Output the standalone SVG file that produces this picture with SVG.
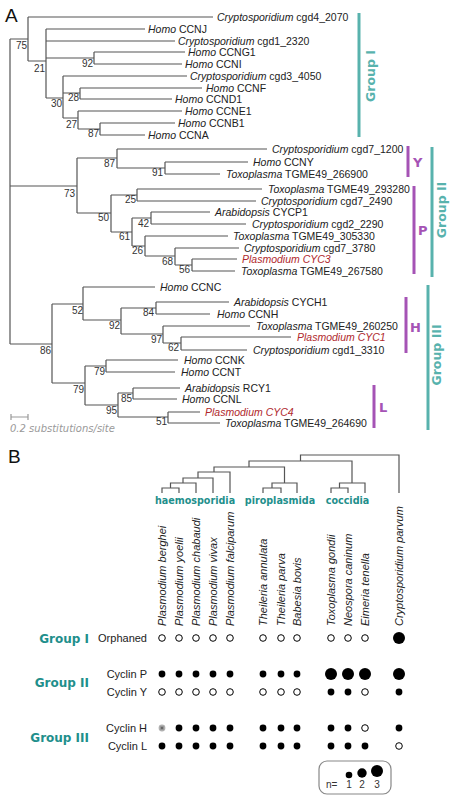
<svg xmlns="http://www.w3.org/2000/svg" width="453" height="800" viewBox="0 0 453 800">
<style>
.e{fill:none;stroke:#555;stroke-width:1.2}
.lf{font-family:"Liberation Sans",Arial,sans-serif;font-size:10.5px;fill:#222}
.it{font-style:italic}
.red{fill:#b0282c;font-style:italic}
.bs{font-family:"Liberation Sans",Arial,sans-serif;font-size:10px;fill:#333;text-anchor:end}
.tealbar{stroke:#58b2ad;stroke-width:3}
.purbar{stroke:#a553b5;stroke-width:3}
.gA{font-family:"DejaVu Sans",Verdana,sans-serif;font-weight:bold;font-size:12.5px;fill:#58b2ad;text-anchor:middle}
.pl{font-family:"DejaVu Sans",Verdana,sans-serif;font-weight:bold;font-size:13px;fill:#a553b5}
.panel{font-family:"Liberation Sans",Arial,sans-serif;font-size:19px;fill:#111}
.cl{font-family:"DejaVu Sans",Verdana,sans-serif;font-weight:bold;font-size:9.6px;fill:#1f8f8c;text-anchor:middle}
.sp{font-family:"Liberation Sans",Arial,sans-serif;font-size:11px;font-style:italic;fill:#222}
.row{font-family:"Liberation Sans",Arial,sans-serif;font-size:11px;fill:#222;text-anchor:end}
.gB{font-family:"DejaVu Sans",Verdana,sans-serif;font-weight:bold;font-size:12px;fill:#1f8f8c;text-anchor:end}
.f{fill:#000}
.o{fill:#fff;stroke:#000;stroke-width:1}
</style>

<text class="panel" x="5" y="22">A</text>
<text class="panel" x="8" y="463">B</text>

<g id="tree-edges">
<path class="e" d="M10,39V344 M10,39H28 M10,186H77 M10,344H52"/>
<!-- Group I -->
<path class="e" d="M28,17V61 M28,17H213 M28,61H46
M46,29V98 M46,29H145 M46,41H175 M46,58H94 M46,98H63
M94,52V64 M94,52H185 M94,64H182
M63,76V118 M63,76H187 M63,93H80 M63,118H78
M80,88V99 M80,88H202 M80,99H172
M78,111V129 M78,111H182 M78,129H100
M100,123V135 M100,123H175 M100,135H145"/>
<!-- Group II -->
<path class="e" d="M77,158V213 M77,158H117 M77,213H111
M117,149V168 M117,149H267 M117,168H165
M165,162V174 M165,162H248 M165,174H220
M111,195V232 M111,195H137 M111,232H132
M137,189V201 M137,189H262 M137,201H256
M132,218V246 M132,218H151 M132,246H145
M151,212V224 M151,212H210 M151,224H246
M145,236V256 M145,236H228 M145,256H175
M175,248V265 M175,248H239 M175,265H192
M192,259V271 M192,259H237 M192,271H235"/>
<!-- Group III -->
<path class="e" d="M52,304V383 M52,304H83 M52,383H85
M83,287V320 M83,287H155 M83,320H121
M121,308V334 M121,308H156 M121,334H163
M156,302V314 M156,302H229 M156,314H210
M163,326V343 M163,326H250 M163,343H181
M181,337V350 M181,337H291 M181,350H247
M85,366V405 M85,366H106 M85,405H118
M106,360V372 M106,360H178 M106,372H175
M118,393V417 M118,393H133 M118,417H168
M133,388V399 M133,388H180 M133,399H177
M168,412V423 M168,412H200 M168,423H220"/>
</g>

<g id="bootstrap">
<text class="bs" x="27" y="49">75</text>
<text class="bs" x="45" y="72">21</text>
<text class="bs" x="93" y="67">92</text>
<text class="bs" x="62" y="107">30</text>
<text class="bs" x="79" y="101">28</text>
<text class="bs" x="77" y="128">27</text>
<text class="bs" x="99" y="137">87</text>
<text class="bs" x="115" y="167">87</text>
<text class="bs" x="163" y="176">91</text>
<text class="bs" x="75" y="197">73</text>
<text class="bs" x="109" y="221">50</text>
<text class="bs" x="136" y="203">25</text>
<text class="bs" x="130" y="240">61</text>
<text class="bs" x="149" y="227">42</text>
<text class="bs" x="143" y="254">26</text>
<text class="bs" x="173" y="265">68</text>
<text class="bs" x="190" y="273">56</text>
<text class="bs" x="51" y="354">86</text>
<text class="bs" x="83" y="314">52</text>
<text class="bs" x="120" y="329">92</text>
<text class="bs" x="154" y="316">84</text>
<text class="bs" x="162" y="343">97</text>
<text class="bs" x="179" y="351">62</text>
<text class="bs" x="84" y="393">79</text>
<text class="bs" x="105" y="375">79</text>
<text class="bs" x="117" y="414">95</text>
<text class="bs" x="132" y="402">85</text>
<text class="bs" x="167" y="425">51</text>
</g>

<g id="leaves">
<g id="cgd4_2070"><text class="lf" x="217" y="21"><tspan class="it">Cryptosporidium</tspan> cgd4_2070</text></g>
<g id="CCNJ"><text class="lf" x="148" y="33"><tspan class="it">Homo</tspan> CCNJ</text></g>
<g id="cgd1_2320"><text class="lf" x="178" y="45"><tspan class="it">Cryptosporidium</tspan> cgd1_2320</text></g>
<g id="CCNG1"><text class="lf" x="188" y="56"><tspan class="it">Homo</tspan> CCNG1</text></g>
<g id="CCNI"><text class="lf" x="185" y="68"><tspan class="it">Homo</tspan> CCNI</text></g>
<g id="cgd3_4050"><text class="lf" x="190" y="80"><tspan class="it">Cryptosporidium</tspan> cgd3_4050</text></g>
<g id="CCNF"><text class="lf" x="206" y="92"><tspan class="it">Homo</tspan> CCNF</text></g>
<g id="CCND1"><text class="lf" x="175" y="103"><tspan class="it">Homo</tspan> CCND1</text></g>
<g id="CCNE1"><text class="lf" x="185" y="115"><tspan class="it">Homo</tspan> CCNE1</text></g>
<g id="CCNB1"><text class="lf" x="178" y="127"><tspan class="it">Homo</tspan> CCNB1</text></g>
<g id="CCNA"><text class="lf" x="148" y="139"><tspan class="it">Homo</tspan> CCNA</text></g>

<g id="cgd7_1200"><text class="lf" x="272" y="153"><tspan class="it">Cryptosporidium</tspan> cgd7_1200</text></g>
<g id="CCNY"><text class="lf" x="253" y="166"><tspan class="it">Homo</tspan> CCNY</text></g>
<g id="TGME49_266900"><text class="lf" x="226" y="178"><tspan class="it">Toxoplasma</tspan> TGME49_266900</text></g>
<g id="TGME49_293280"><text class="lf" x="268" y="193"><tspan class="it">Toxoplasma</tspan> TGME49_293280</text></g>
<g id="cgd7_2490"><text class="lf" x="261" y="205"><tspan class="it">Cryptosporidium</tspan> cgd7_2490</text></g>
<g id="CYCP1"><text class="lf" x="215" y="216"><tspan class="it">Arabidopsis</tspan> CYCP1</text></g>
<g id="cgd2_2290"><text class="lf" x="252" y="228"><tspan class="it">Cryptosporidium</tspan> cgd2_2290</text></g>
<g id="TGME49_305330"><text class="lf" x="233" y="240"><tspan class="it">Toxoplasma</tspan> TGME49_305330</text></g>
<g id="cgd7_3780"><text class="lf" x="244" y="252"><tspan class="it">Cryptosporidium</tspan> cgd7_3780</text></g>
<g id="CYC3"><text class="lf red" x="242" y="263">Plasmodium CYC3</text></g>
<g id="TGME49_267580"><text class="lf" x="241" y="275"><tspan class="it">Toxoplasma</tspan> TGME49_267580</text></g>

<g id="CCNC"><text class="lf" x="160" y="291"><tspan class="it">Homo</tspan> CCNC</text></g>
<g id="CYCH1"><text class="lf" x="234" y="306"><tspan class="it">Arabidopsis</tspan> CYCH1</text></g>
<g id="CCNH"><text class="lf" x="217" y="318"><tspan class="it">Homo</tspan> CCNH</text></g>
<g id="TGME49_260250"><text class="lf" x="256" y="330"><tspan class="it">Toxoplasma</tspan> TGME49_260250</text></g>
<g id="CYC1"><text class="lf red" x="297" y="341">Plasmodium CYC1</text></g>
<g id="cgd1_3310"><text class="lf" x="253" y="354"><tspan class="it">Cryptosporidium</tspan> cgd1_3310</text></g>
<g id="CCNK"><text class="lf" x="184" y="364"><tspan class="it">Homo</tspan> CCNK</text></g>
<g id="CCNT"><text class="lf" x="181" y="376"><tspan class="it">Homo</tspan> CCNT</text></g>
<g id="RCY1"><text class="lf" x="185" y="392"><tspan class="it">Arabidopsis</tspan> RCY1</text></g>
<g id="CCNL"><text class="lf" x="182" y="403"><tspan class="it">Homo</tspan> CCNL</text></g>
<g id="CYC4"><text class="lf red" x="205" y="416">Plasmodium CYC4</text></g>
<g id="TGME49_264690"><text class="lf" x="225" y="427"><tspan class="it">Toxoplasma</tspan> TGME49_264690</text></g>
</g>

<g id="group-bars">
<line class="tealbar" x1="359" y1="13" x2="359" y2="137"/>
<text class="gA" transform="translate(375,76) rotate(-90)">Group I</text>
<line class="purbar" x1="408" y1="146" x2="408" y2="177"/>
<text class="pl" x="413" y="167">Y</text>
<line class="purbar" x1="414" y1="186" x2="414" y2="274"/>
<text class="pl" x="418" y="235">P</text>
<line class="tealbar" x1="432" y1="147" x2="432" y2="277"/>
<text class="gA" transform="translate(446,210) rotate(-90)">Group II</text>
<line class="purbar" x1="406" y1="297" x2="406" y2="353"/>
<text class="pl" x="410" y="332">H</text>
<line class="purbar" x1="374" y1="385" x2="374" y2="428"/>
<text class="pl" x="379" y="412">L</text>
<line class="tealbar" x1="428" y1="285" x2="428" y2="430"/>
<text class="gA" transform="translate(441,355) rotate(-90)">Group III</text>
</g>

<g id="scale-bar">
<path d="M11,417H28 M11,414V420 M28,414V420" fill="none" stroke="#999" stroke-width="1.2"/>
<text x="10" y="432" font-family="DejaVu Sans, Verdana, sans-serif" font-size="10px" font-style="italic" fill="#999">0.2 substitutions/site</text>
</g>

<g id="species-tree">
<path class="e" d="M162,493V488H179V493 M170.5,488V483H196V493 M183,483V478H213V493 M198,478V472H230V493
M214,472V467H284.5V483 M263,493V488H281V493 M272,488V483H297V493
M249,467V461H352V483 M331,493V488H348V493 M339.5,488V483H365V493
M300.5,461V455H399V493"/>
<text class="cl" x="195" y="504">haemosporidia</text>
<text class="cl" x="280" y="504">piroplasmida</text>
<text class="cl" x="347.5" y="504">coccidia</text>
</g>

<g id="species-labels">
<text class="sp" transform="translate(166,626) rotate(-90)">Plasmodium berghei</text>
<text class="sp" transform="translate(183,626) rotate(-90)">Plasmodium yoelii</text>
<text class="sp" transform="translate(200,626) rotate(-90)">Plasmodium chabaudi</text>
<text class="sp" transform="translate(217,626) rotate(-90)">Plasmodium vivax</text>
<text class="sp" transform="translate(234,626) rotate(-90)">Plasmodium falciparum</text>
<text class="sp" transform="translate(267,626) rotate(-90)">Theileria annulata</text>
<text class="sp" transform="translate(285,626) rotate(-90)">Theileria parva</text>
<text class="sp" transform="translate(301,626) rotate(-90)">Babesia bovis</text>
<text class="sp" transform="translate(335,626) rotate(-90)">Toxoplasma gondii</text>
<text class="sp" transform="translate(352,626) rotate(-90)">Neospora caninum</text>
<text class="sp" transform="translate(369,626) rotate(-90)">Eimeria tenella</text>
<text class="sp" transform="translate(403,626) rotate(-90)">Cryptosporidium parvum</text>
</g>

<g id="row-labels">
<text class="gB" x="89" y="643">Group I</text>
<text class="gB" x="89" y="687">Group II</text>
<text class="gB" x="89" y="742">Group III</text>
<text class="row" x="147" y="642">Orphaned</text>
<text class="row" x="147" y="678">Cyclin P</text>
<text class="row" x="147" y="696">Cyclin Y</text>
<text class="row" x="147" y="732">Cyclin H</text>
<text class="row" x="147" y="750">Cyclin L</text>
</g>

<g id="matrix">
<!-- Orphaned -->
<g>
<circle class="o" cx="162" cy="638" r="3.3"/><circle class="o" cx="179" cy="638" r="3.3"/><circle class="o" cx="196" cy="638" r="3.3"/><circle class="o" cx="213" cy="638" r="3.3"/><circle class="o" cx="230" cy="638" r="3.3"/>
<circle class="o" cx="263" cy="638" r="3.3"/><circle class="o" cx="281" cy="638" r="3.3"/><circle class="o" cx="297" cy="638" r="3.3"/>
<circle class="o" cx="331" cy="638" r="3.3"/><circle class="o" cx="348" cy="638" r="3.3"/><circle class="o" cx="365" cy="638" r="3.3"/>
<circle class="f" cx="399" cy="638" r="6"/>
</g>
<!-- Cyclin P -->
<g>
<circle class="f" cx="162" cy="674" r="3.4"/><circle class="f" cx="179" cy="674" r="3.4"/><circle class="f" cx="196" cy="674" r="3.4"/><circle class="f" cx="213" cy="674" r="3.4"/><circle class="f" cx="230" cy="674" r="3.4"/>
<circle class="f" cx="263" cy="674" r="3.4"/><circle class="f" cx="281" cy="674" r="3.4"/><circle class="f" cx="297" cy="674" r="3.4"/>
<circle class="f" cx="331" cy="674" r="6"/><circle class="f" cx="348" cy="674" r="6"/><circle class="f" cx="365" cy="674" r="6"/>
<circle class="f" cx="399" cy="674" r="6"/>
</g>
<!-- Cyclin Y -->
<g>
<circle class="o" cx="162" cy="692" r="3.3"/><circle class="o" cx="179" cy="692" r="3.3"/><circle class="o" cx="196" cy="692" r="3.3"/><circle class="o" cx="213" cy="692" r="3.3"/><circle class="o" cx="230" cy="692" r="3.3"/>
<circle class="o" cx="263" cy="692" r="3.3"/><circle class="o" cx="281" cy="692" r="3.3"/><circle class="o" cx="297" cy="692" r="3.3"/>
<circle class="f" cx="331" cy="692" r="3.4"/><circle class="f" cx="348" cy="692" r="3.4"/><circle class="o" cx="365" cy="692" r="3.3"/>
<circle class="f" cx="399" cy="692" r="3.4"/>
</g>
<!-- Cyclin H -->
<g>
<circle cx="162" cy="728" r="3.4" fill="#b0b0b0"/>
<path d="M162,726V730 M160,728H164 M160.6,726.6L163.4,729.4 M160.6,729.4L163.4,726.6" stroke="#555" stroke-width="0.6"/>
<circle class="f" cx="179" cy="728" r="3.4"/><circle class="f" cx="196" cy="728" r="3.4"/><circle class="f" cx="213" cy="728" r="3.4"/><circle class="f" cx="230" cy="728" r="3.4"/>
<circle class="f" cx="263" cy="728" r="3.4"/><circle class="f" cx="281" cy="728" r="3.4"/><circle class="f" cx="297" cy="728" r="3.4"/>
<circle class="f" cx="331" cy="728" r="3.4"/><circle class="f" cx="348" cy="728" r="3.4"/><circle class="o" cx="365" cy="728" r="3.3"/>
<circle class="f" cx="399" cy="728" r="3.4"/>
</g>
<!-- Cyclin L -->
<g>
<circle class="f" cx="162" cy="746" r="3.4"/><circle class="f" cx="179" cy="746" r="3.4"/><circle class="f" cx="196" cy="746" r="3.4"/><circle class="f" cx="213" cy="746" r="3.4"/><circle class="f" cx="230" cy="746" r="3.4"/>
<circle class="f" cx="263" cy="746" r="3.4"/><circle class="f" cx="281" cy="746" r="3.4"/><circle class="f" cx="297" cy="746" r="3.4"/>
<circle class="f" cx="331" cy="746" r="3.4"/><circle class="f" cx="348" cy="746" r="3.4"/><circle class="f" cx="365" cy="746" r="3.4"/>
<circle class="o" cx="399" cy="746" r="3.3"/>
</g>
</g>

<g id="legend">
<rect x="319" y="761" width="72" height="33" rx="8" fill="none" stroke="#888" stroke-width="1.2"/>
<text x="326" y="788" font-family="Liberation Sans, Arial, sans-serif" font-size="10px" fill="#333">n=</text>
<circle class="f" cx="349" cy="775" r="3.3"/>
<circle class="f" cx="362" cy="773" r="4.7"/>
<circle class="f" cx="377" cy="771" r="6"/>
<g font-family="Liberation Sans, Arial, sans-serif" font-size="10px" fill="#333" text-anchor="middle">
<text x="349" y="788">1</text><text x="362" y="788">2</text><text x="377" y="788">3</text>
</g>
</g>
</svg>
